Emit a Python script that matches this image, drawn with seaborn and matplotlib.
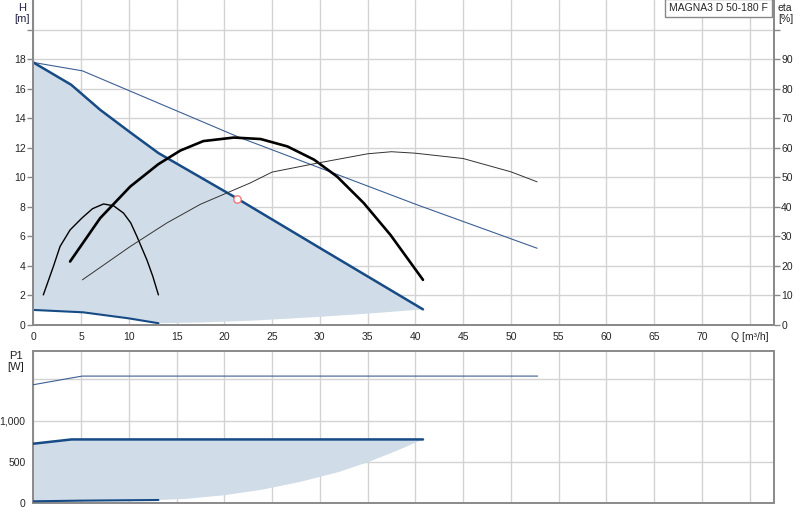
import numpy as np
import pandas as pd
import seaborn as sns
import matplotlib.pyplot as plt

sns.set_style("white")
plt.rcParams['font.family'] = ['Liberation Sans', 'DejaVu Sans']
plt.rcParams['font.size'] = 7.5

# Q-H curves (Q in m³/h, H in m)
q_max = [0, 3.96, 7.0, 10.15, 13.1, 21.0, 30.0, 40.8]
h_max = [17.77, 16.26, 14.56, 13.03, 11.63, 8.68, 5.2, 1.04]
q_min = [0, 5.2, 10.0, 13.1]
h_min = [1.0, 0.84, 0.43, 0.1]
q_low = [13.1, 17.5, 22.8, 29.7, 35.0, 40.8]
h_low = [0.1, 0.15, 0.27, 0.52, 0.75, 1.04]
q_lim = [0, 5.14, 21.5, 40.2, 52.75]
h_lim = [17.77, 17.2, 12.71, 8.12, 5.18]

# duty point
q_duty = [21.3]
h_duty = [8.55]

# efficiency curves (eta in %)
q_eta_min = [1.05, 2.1, 2.8, 3.85, 5.08, 6.2, 7.35, 8.4, 9.45, 10.2, 10.85, 11.9, 12.5, 13.1]
eta_min = [10.1, 19.7, 26.5, 32.1, 36.1, 39.3, 40.9, 40.3, 37.8, 34.5, 29.9, 21.9, 16.5, 10.1]
q_eta_max = [3.85, 7.0, 10.15, 13.1, 15.4, 17.8, 21.0, 23.8, 26.6, 29.4, 31.8, 34.6, 37.4, 40.8]
eta_max = [21.4, 36.1, 46.8, 54.4, 59.0, 62.2, 63.4, 62.9, 60.4, 55.9, 50.2, 41.2, 30.4, 15.2]
q_eta_lim = [5.14, 10.15, 14.0, 17.5, 22.7, 25.0, 30.0, 35.0, 37.5, 40.0, 45.0, 50.0, 52.75]
eta_lim = [15.2, 26.5, 34.5, 40.8, 48.0, 51.7, 54.9, 57.9, 58.6, 58.1, 56.3, 51.8, 48.4]

# power curves (P1 in W)
q_pmax = [0, 4.0, 40.8]
p_max = [718, 770, 770]
q_plim = [0, 5.1, 52.8]
p_lim = [1436, 1541, 1541]
q_pmin = [0, 5.0, 13.1]
p_min = [17, 25, 33]
q_plow = [13.1, 16, 20, 23.8, 28, 32, 35.2, 38, 40.8]
p_low = [33, 47, 91, 155, 255, 374, 500, 630, 770]

x_ticks = list(range(0, 80, 5))
x_labels = [str(v) for v in x_ticks[:-1]] + ['Q [m³/h]']

blue = '#164b86'
thin_blue = '#3d5f94'
fill_col = '#d0dce7'
grid_col = '#d3d3d3'
spine_col = '#8a8a8a'

fig = plt.figure(figsize=(8, 5.2), dpi=100)
W, H = 800, 520
ax = fig.add_axes([33.3 / W, 1 - 324.7 / H, (773.5 - 33.3) / W, 324.7 / H])
axp = fig.add_axes([33.3 / W, 1 - 502.7 / H, (773.5 - 33.3) / W, 152 / H])


def style(a):
    a.grid(True, color=grid_col, lw=1)
    a.set_axisbelow(True)
    for s in a.spines.values():
        s.set_color(spine_col)
        s.set_linewidth(1.4)
    a.tick_params(length=4, width=1, color=spine_col, labelsize=7.5, pad=1.5)
    a.set_xlim(0, 77.5)
    a.set_xticks(x_ticks)
    a.set_xlabel('')
    a.set_ylabel('')


# ---- top chart: head
ax.fill(q_max + q_low[::-1] + q_min[::-1], h_max + h_low[::-1] + h_min[::-1],
        color=fill_col, lw=0, zorder=1)
sns.lineplot(x=q_lim, y=h_lim, ax=ax, color=thin_blue, lw=0.8, sort=False, estimator=None, zorder=3)
sns.lineplot(x=q_max, y=h_max, ax=ax, color=blue, lw=1.8, sort=False, estimator=None, zorder=3)
sns.lineplot(x=q_min, y=h_min, ax=ax, color=blue, lw=1.5, sort=False, estimator=None, zorder=3)
style(ax)
ax.set_ylim(0, 22)
ax.set_yticks(range(0, 22, 2))
ax.set_yticklabels([str(v) for v in range(0, 20, 2)] + [''])
ax.set_xticklabels(x_labels)
ax.spines['top'].set_visible(False)

ax2 = ax.twinx()
sns.lineplot(x=q_eta_min, y=eta_min, ax=ax2, color='black', lw=1.0, sort=False, estimator=None)
sns.lineplot(x=q_eta_max, y=eta_max, ax=ax2, color='black', lw=1.9, sort=False, estimator=None)
sns.lineplot(x=q_eta_lim, y=eta_lim, ax=ax2, color='#333333', lw=0.7, sort=False, estimator=None)
sns.scatterplot(x=q_duty, y=[v * 5 for v in h_duty], ax=ax2, s=28, facecolor='white',
                edgecolor='#f07878', linewidth=1.0, zorder=5)
ax2.set_ylim(0, 110)
ax2.set_yticks(range(0, 110, 10))
ax2.set_yticklabels([str(v) for v in range(0, 100, 10)] + [''])
ax2.set_ylabel('')
for s in ax2.spines.values():
    s.set_color(spine_col)
    s.set_linewidth(1.4)
ax2.spines['top'].set_visible(False)
ax2.tick_params(length=4, width=1, color=spine_col, labelsize=7.5, pad=1.5)
ax2.set_xlim(0, 77.5)

fig.text(22 / W, 1 - 3 / H, 'H\n[m]', ha='center', va='top', fontsize=8, color='#222244', linespacing=1.1)
fig.text(778 / W, 1 - 3 / H, 'eta\n[%]', ha='left', va='top', fontsize=7.5, color='#222222', linespacing=1.1)
fig.text(768 / W, 1 - 3 / H, 'MAGNA3 D 50-180 F', ha='right', va='top', fontsize=7.5,
         bbox=dict(boxstyle='square,pad=0.35', fc='white', ec='#888888', lw=1))

# ---- bottom chart: power
axp.fill(q_pmax + q_plow[::-1] + q_pmin[::-1], p_max + p_low[::-1] + p_min[::-1],
         color=fill_col, lw=0, zorder=1)
sns.lineplot(x=q_plim, y=p_lim, ax=axp, color=thin_blue, lw=0.8, sort=False, estimator=None, zorder=3)
sns.lineplot(x=q_pmax, y=p_max, ax=axp, color=blue, lw=1.8, sort=False, estimator=None, zorder=3)
sns.lineplot(x=q_pmin, y=p_min, ax=axp, color=blue, lw=1.5, sort=False, estimator=None, zorder=3)
style(axp)
axp.set_ylim(0, 1850)
axp.set_yticks([0, 500, 1000, 1500])
axp.set_yticklabels(['0', '500', '1,000', ''])
axp.tick_params(axis='x', length=0, labelbottom=False)
fig.text(16 / W, 1 - 351 / H, 'P1\n[W]', ha='center', va='top', fontsize=8, color='#222222', linespacing=1.1)

fig.savefig('out.png', dpi=100)
